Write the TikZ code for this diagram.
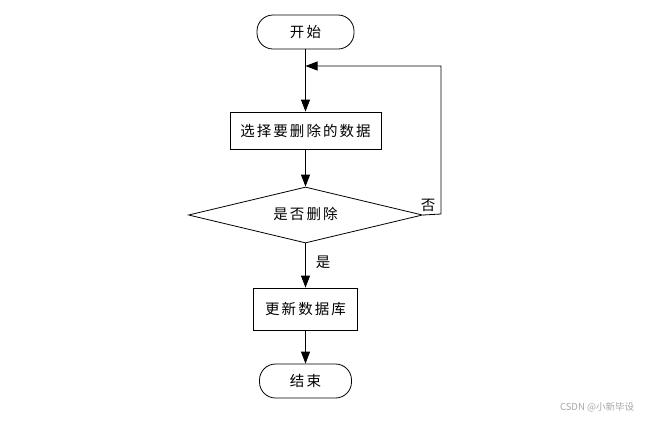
\documentclass[tikz,border=0pt]{standalone}
\usepackage{fontspec}
\setmainfont{Liberation Sans}
\newfontfamily\cjk[LetterSpace=14]{Noto Sans CJK SC}
\newfontfamily\cjkw{Noto Sans CJK SC}
\usetikzlibrary{shapes.geometric,arrows.meta}
\begin{document}
\begin{tikzpicture}[x=1pt,y=-1pt,
  every node/.style={font=\cjk\fontsize{14.5}{16}\selectfont},
  term/.style={draw, line width=0.8pt, rounded corners=16pt, minimum width=97pt, minimum height=34pt, inner sep=0pt},
  proc/.style={draw, line width=0.8pt, minimum height=37pt, inner sep=0pt},
  dec/.style={draw, line width=0.8pt, shape=diamond, minimum width=234pt, minimum height=56pt, inner sep=0pt, aspect=4.2},
  conn/.style={line width=0.8pt, -{Triangle[length=12pt,width=9pt]}},
  lbl/.style={inner sep=0pt}]
\useasboundingbox (0,0) rectangle (652,421);
\node[term] (start) at (305.5,32) {开始};
\node[proc, minimum width=151pt] (sel) at (305.5,130.5) {选择要删除的数据};
\node[dec] (dec) at (305.5,215) {};
\node[lbl] (dectext) at (305.5,214) {是否删除};
\node[proc, minimum width=104pt, minimum height=42pt] (upd) at (305.5,309) {更新数据库};
\node[term, minimum width=92pt] (end) at (305.5,381) {结束};
\coordinate (loopc) at (305.5,66);
\coordinate (rc) at (441,214);
\coordinate (tc) at (441,66);
\draw[conn] (start) -- (sel);
\draw[conn] (sel) -- (dec);
\draw[conn] (dec) -- (upd);
\draw[conn] (upd) -- (end);
\draw[conn] (dec.east) -- (rc) -- (tc) -- (loopc);
\node[lbl] (no) at (428,205) {否};
\node[lbl] (yes) at (323,262) {是};
\node[lbl, text=black!35, font=\cjkw\fontsize{9.5}{11}\selectfont] (wm) at (597,407) {CSDN @小新毕设};
\end{tikzpicture}
\end{document}
